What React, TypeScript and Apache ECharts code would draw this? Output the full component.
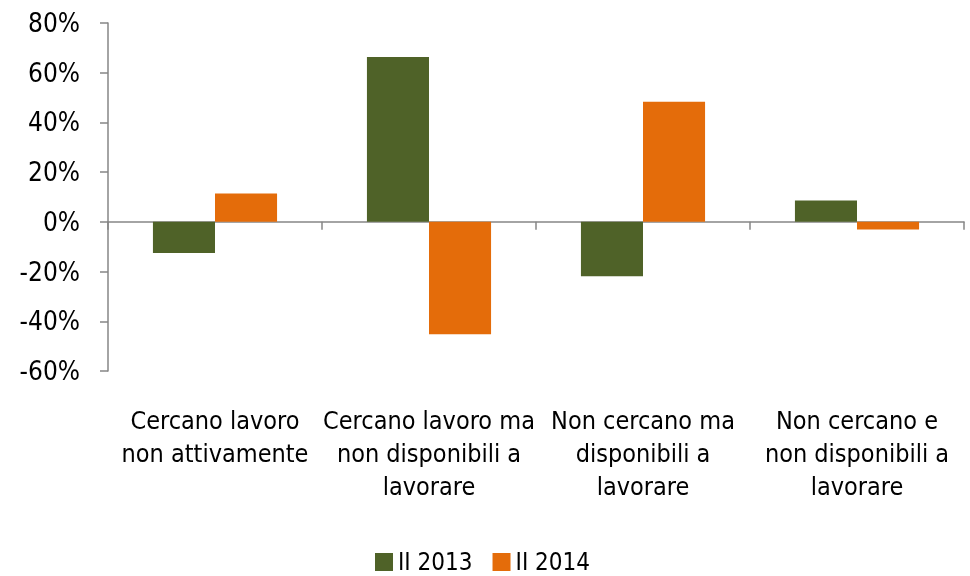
import React, { useEffect, useRef } from "react";
import * as echarts from "echarts";

const categories = [
  "Cercano lavoro\nnon attivamente",
  "Cercano lavoro ma\nnon disponibili a\nlavorare",
  "Non cercano ma\ndisponibili a\nlavorare",
  "Non cercano e\nnon disponibili a\nlavorare",
];
const seriesNames = ["II 2013", "II 2014"];
const values2013 = [-12.5, 66.3, -21.9, 8.6];
const values2014 = [11.4, -45.2, 48.3, -3.1];
const yTicks = { min: -60, max: 80, interval: 20 };

const FONT = "'DejaVu Sans Condensed', 'Liberation Sans Narrow', Roboto, sans-serif";

export default function App() {
  const ref = useRef<HTMLDivElement>(null);
  useEffect(() => {
    if (!ref.current) return;
    const chart = echarts.init(ref.current, null, { renderer: "svg" });
    chart.setOption({
      animation: false,
      grid: { left: 108, right: 6, top: 23, bottom: 205, containLabel: false },
      legend: {
        data: seriesNames,
        left: 375,
        top: 550,
        padding: 0,
        icon: "rect",
        itemWidth: 18,
        itemHeight: 18,
        itemGap: 20,
        textStyle: { fontFamily: FONT, fontSize: 24, color: "#000", padding: [0, 0, 0, 0] },
      },
      xAxis: [
        {
          type: "category",
          data: categories,
          position: "bottom",
          axisLine: { show: false, onZero: false },
          axisTick: { show: false },
          axisLabel: {
            fontFamily: FONT,
            fontSize: 25,
            lineHeight: 33,
            color: "#000",
            margin: 33,
            interval: 0,
          },
        },
        {
          type: "category",
          data: categories,
          position: "bottom",
          axisLine: { show: true, onZero: true, lineStyle: { color: "#868686", width: 1.5 } },
          axisTick: { show: true, length: 8, inside: false, lineStyle: { color: "#868686", width: 1.5 } },
          axisLabel: { show: false },
        },
      ],
      yAxis: {
        type: "value",
        min: yTicks.min,
        max: yTicks.max,
        interval: yTicks.interval,
        axisLine: { show: true, lineStyle: { color: "#868686", width: 1.5 } },
        axisTick: { show: true, length: 8, lineStyle: { color: "#868686", width: 1.5 } },
        splitLine: { show: false },
        axisLabel: {
          formatter: (v: number) => v + "%",
          fontFamily: FONT,
          fontSize: 26,
          color: "#000",
          margin: 28,
        },
      },
      series: [
        {
          name: seriesNames[0],
          type: "bar",
          data: values2013,
          xAxisIndex: 0,
          barGap: "0%",
          barCategoryGap: "42%",
          itemStyle: { color: "#4F6228" },
        },
        {
          name: seriesNames[1],
          type: "bar",
          data: values2014,
          xAxisIndex: 0,
          barGap: "0%",
          barCategoryGap: "42%",
          itemStyle: { color: "#E46C0A" },
        },
      ],
    });
    return () => chart.dispose();
  }, []);
  return (
    <div
      ref={ref}
      style={{ position: "fixed", left: 0, top: 0, width: 970, height: 576 }}
    />
  );
}
